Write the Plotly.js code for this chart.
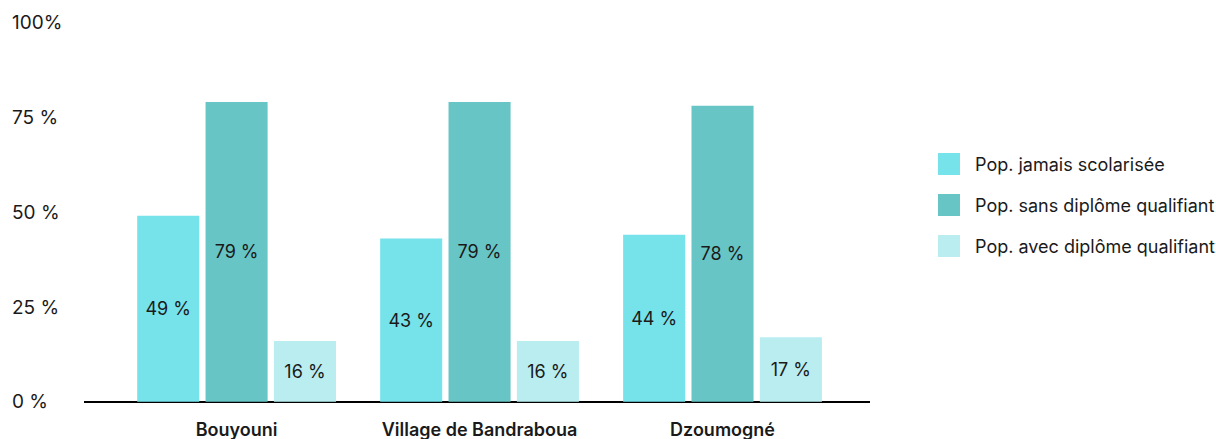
<!DOCTYPE html>
<html>
<head>
<meta charset="utf-8">
<script src="https://cdn.plot.ly/plotly-3.0.1.min.js"></script>
<style>html,body{margin:0;padding:0;background:#fff;}#chart{width:1216px;height:439px;}</style>
</head>
<body>
<div id="chart"></div>
<script>
var categories = ["Bouyouni", "Village de Bandraboua", "Dzoumogné"];
var seriesNames = ["Pop. jamais scolarisée", "Pop. sans diplôme qualifiant", "Pop. avec diplôme qualifiant"];
var jamaisScolarisee = [49, 43, 44];
var sansDiplome = [79, 79, 78];
var avecDiplome = [16, 16, 17];
var seriesColors = ["#76E2EA", "#68C5C5", "#B9EDF0"];
var yTickVals = [0, 25, 50, 75, 100];
var yTickText = ["0 %", "25 %", "50 %", "75 %", "100%"];

var seriesValues = [jamaisScolarisee, sansDiplome, avecDiplome];
var font = "Inter, 'Noto Sans', sans-serif";

var W = 1216, H = 439;
var ML = 8, MT = 7, MB = 22;
var PW = W - ML, PH = H - MT - MB;
var Y0 = -4, Y1 = 104;
function px2paperX(px) { return (px - ML) / PW; }
function px2paperY(py) { return (H - MB - py) / PH; }

var traces = seriesValues.map(function (vals, i) {
  return {
    type: "bar",
    name: seriesNames[i],
    x: categories,
    y: vals,
    text: vals.map(function (v) { return v + " %"; }),
    textposition: "inside",
    insidetextanchor: "middle",
    textangle: 0,
    constraintext: "none",
    textfont: { family: font, size: 18, color: "#1a1a1a" },
    marker: { color: seriesColors[i], line: { width: 0 } },
    hoverinfo: "none",
    showlegend: false
  };
});

var legendX = 938, legendY0 = 164, legendStep = 41, sw = 22;
var shapes = seriesNames.map(function (n, i) {
  var cy = legendY0 + i * legendStep;
  return {
    type: "rect", xref: "paper", yref: "paper",
    x0: px2paperX(legendX), x1: px2paperX(legendX + sw),
    y0: px2paperY(cy + sw / 2), y1: px2paperY(cy - sw / 2),
    line: { width: 0 }, fillcolor: seriesColors[i]
  };
});
var annotations = seriesNames.map(function (n, i) {
  var cy = legendY0 + i * legendStep;
  return {
    text: n, xref: "paper", yref: "paper", showarrow: false,
    xanchor: "left", yanchor: "middle",
    x: px2paperX(973), y: px2paperY(cy),
    font: { family: font, size: 18, color: "#1a1a1a" }
  };
});

var layout = {
  width: W, height: H,
  margin: { l: ML, r: 0, t: MT, b: MB },
  paper_bgcolor: "#fff", plot_bgcolor: "#fff",
  barmode: "group",
  bargap: 0.156,
  bargroupgap: 0.092,
  showlegend: false,
  font: { family: font, color: "#1a1a1a" },
  xaxis: {
    type: "category",
    domain: [px2paperX(84), px2paperX(870)],
    range: [-0.628, 2.607],
    showline: false,
    showgrid: false, zeroline: false,
    ticks: "",
    tickfont: { family: font, size: 18, color: "#1a1a1a", weight: 600 },
    fixedrange: true
  },
  yaxis: {
    range: [Y0, Y1],
    anchor: "free", position: 0,
    tickvals: yTickVals, ticktext: yTickText,
    ticklabelposition: "inside",
    showgrid: false, showline: false,
    zeroline: true, zerolinecolor: "#000", zerolinewidth: 2,
    ticks: "",
    tickfont: { family: font, size: 19, color: "#1a1a1a" },
    fixedrange: true
  },
  shapes: shapes,
  annotations: annotations
};

Plotly.newPlot("chart", traces, layout, { displayModeBar: false, staticPlot: true });
</script>
</body>
</html>
